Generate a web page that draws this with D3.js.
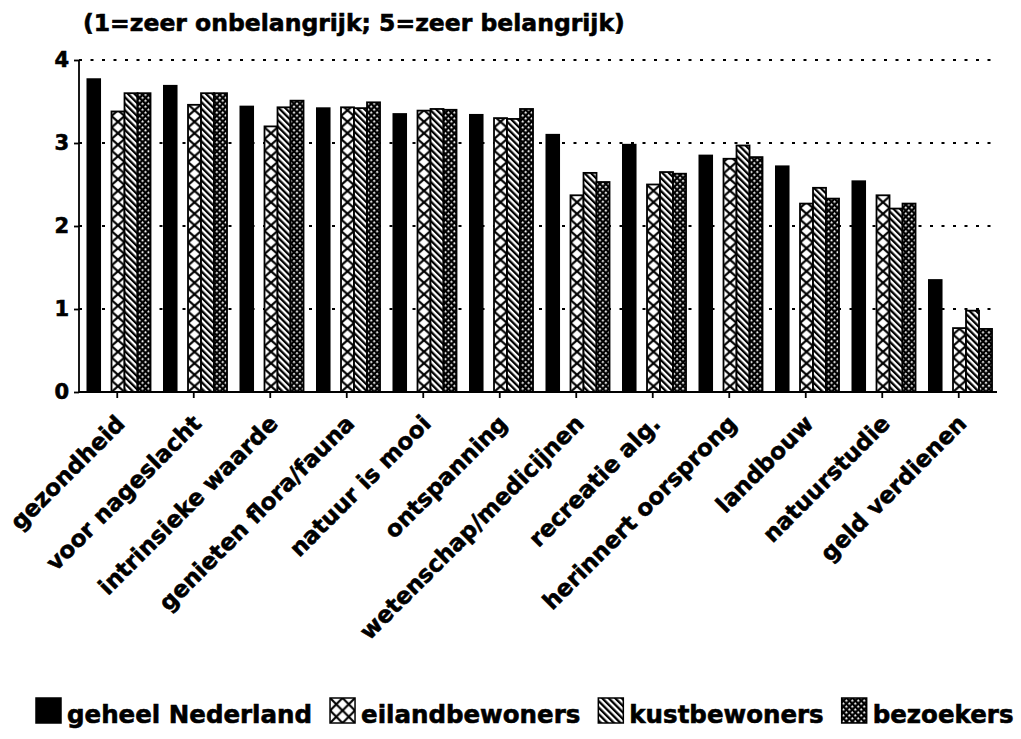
<!DOCTYPE html>
<html><head><meta charset="utf-8">
<script src="https://cdn.jsdelivr.net/npm/d3@7"></script>
<style>body{margin:0;background:#fff} svg{display:block}</style>
</head><body>
<script>
const categories = ["gezondheid","voor nageslacht","intrinsieke waarde","genieten flora/fauna","natuur is mooi","ontspanning","wetenschap/medicijnen","recreatie alg.","herinnert oorsprong","landbouw","natuurstudie","geld verdienen"];
const seriesNames = ["geheel Nederland","eilandbewoners","kustbewoners","bezoekers"];
const geheel = [3.78,3.70,3.45,3.43,3.36,3.35,3.11,2.99,2.86,2.73,2.55,1.36];
const eiland = [3.38,3.46,3.20,3.43,3.39,3.30,2.37,2.50,2.81,2.27,2.37,0.77];
const kust   = [3.60,3.60,3.43,3.42,3.41,3.29,2.64,2.65,2.97,2.46,2.21,0.98];
const bezoek = [3.60,3.60,3.51,3.49,3.40,3.41,2.53,2.63,2.83,2.33,2.27,0.76];
const yTicks = [0,1,2,3,4];
const title = "(1=zeer onbelangrijk; 5=zeer belangrijk)";

const W = 1021, H = 739;
const FONT = "'DejaVu Sans', sans-serif";
const svg = d3.select("body").append("svg").attr("width", W).attr("height", H);
const defs = svg.append("defs");

const x = d3.scaleBand().domain(categories).range([79, 997]);
const y = d3.scaleLinear().domain([0, 4]).range([392, 60]);
const bw = x.bandwidth();
const sub = d3.scaleLinear().domain([0, 1]).range([0, bw]);
const offs = [0.098, 0.425, 0.595, 0.765];
const wids = [0.19, 0.17, 0.17, 0.17];

function heavy(sel) {
  return sel.attr("font-family", FONT).attr("font-weight", "bold")
    .attr("fill", "#000").attr("stroke", "#000").attr("stroke-width", 0.6);
}

// patterns
const kp = defs.append("pattern").attr("id", "kust").attr("patternUnits", "userSpaceOnUse")
  .attr("width", 4.6).attr("height", 10).attr("patternTransform", "rotate(-45)");
kp.append("rect").attr("width", 4.6).attr("height", 10).attr("fill", "#fff");
kp.append("rect").attr("width", 2.3).attr("height", 10).attr("fill", "#000");

const bp = defs.append("pattern").attr("id", "bez").attr("patternUnits", "userSpaceOnUse")
  .attr("width", 4.2).attr("height", 4.2).attr("patternTransform", "rotate(45)");
bp.append("rect").attr("width", 4.2).attr("height", 4.2).attr("fill", "#000");
bp.append("rect").attr("x", 1).attr("y", 1).attr("width", 1.9).attr("height", 1.9).attr("fill", "#fff");

function crossPattern(id, px, py, w, h) {
  const p = defs.append("pattern").attr("id", id).attr("patternUnits", "userSpaceOnUse")
    .attr("x", px).attr("y", py).attr("width", w).attr("height", h);
  p.append("rect").attr("width", w).attr("height", h).attr("fill", "#fff");
  p.append("path").attr("d", `M0,0L${w},${h}M${w},0L0,${h}`).attr("stroke", "#000").attr("stroke-width", 2.2);
  return `url(#${id})`;
}

// gridlines
svg.append("g").selectAll("line").data(yTicks.filter(d => d > 0)).join("line")
  .attr("x1", 79).attr("x2", 997).attr("y1", d => y(d)).attr("y2", d => y(d))
  .attr("stroke", "#000").attr("stroke-width", 2.2).attr("stroke-dasharray", "3,8.5");

// bars
const series = [geheel, eiland, kust, bezoek];
const gBars = svg.append("g");
categories.forEach((c, i) => {
  series.forEach((vals, s) => {
    const bx = x(c) + sub(offs[s]);
    const w = sub(wids[s]);
    let fill;
    if (s === 0) fill = "#000";
    else if (s === 1) fill = crossPattern("eil" + i, bx, y(0), w, 11.5);
    else if (s === 2) fill = "url(#kust)";
    else fill = "url(#bez)";
    gBars.append("rect")
      .attr("x", bx).attr("y", y(vals[i])).attr("width", w).attr("height", y(0) - y(vals[i]))
      .attr("fill", fill).attr("stroke", "#000").attr("stroke-width", s === 0 ? 0 : 1.8);
  });
});

// y axis
const ya = svg.append("g").attr("transform", "translate(79,0)")
  .call(d3.axisLeft(y).tickValues(yTicks).tickSize(5).tickFormat(d3.format("d")));
ya.select(".domain").attr("stroke-width", 1.8).attr("d", `M-0,${y(4)}H0V${y(0)}`);
ya.selectAll(".tick line").attr("stroke-width", 1.8);
heavy(ya.selectAll("text")).attr("font-size", 21).attr("x", -10);

// x axis
const xa = svg.append("g").attr("transform", `translate(0,${y(0)})`)
  .call(d3.axisBottom(x).tickSize(6).tickFormat(""));
xa.select(".domain").attr("stroke-width", 2.2).attr("d", `M79,0H997`);
xa.selectAll(".tick line").attr("stroke-width", 1.8);

heavy(svg.append("g").selectAll("text").data(categories).join("text")
  .attr("transform", d => `translate(${x(d) + bw / 2 + 9},425) rotate(-45)`)
  .attr("text-anchor", "end")
  .attr("font-size", 23)
  .text(d => d));

// title
heavy(svg.append("text").attr("x", 83).attr("y", 31).attr("font-size", 23.5).text(title));

// legend
const lg = svg.append("g");
let cx = 36;
seriesNames.forEach((name, s) => {
  let fill;
  if (s === 0) fill = "#000";
  else if (s === 1) fill = crossPattern("eilLeg", cx, 698, 12.5, 12.5);
  else if (s === 2) fill = "url(#kust)";
  else fill = "url(#bez)";
  lg.append("rect").attr("x", cx).attr("y", 698).attr("width", 25).attr("height", 25)
    .attr("fill", fill).attr("stroke", "#000").attr("stroke-width", 1.5);
  const t = heavy(lg.append("text").attr("x", cx + 31).attr("y", 723).attr("font-size", 24.5).text(name));
  cx += 31 + t.node().getComputedTextLength() + 18;
});
</script>
</body></html>
